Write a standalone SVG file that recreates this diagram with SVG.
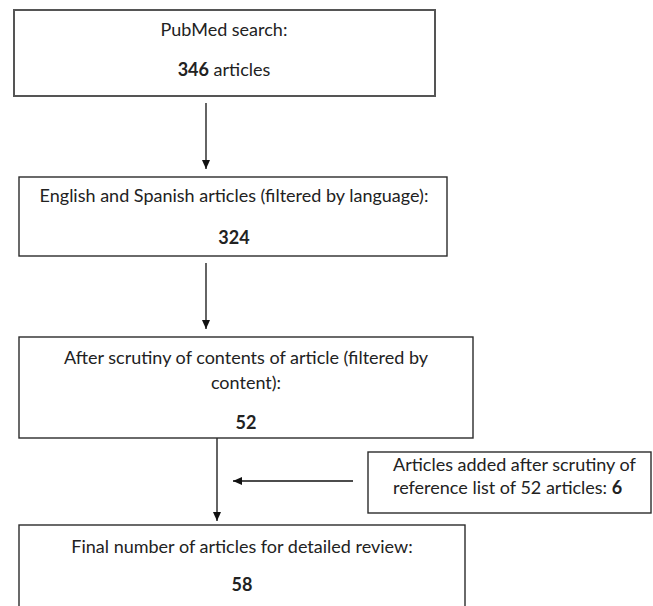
<svg xmlns="http://www.w3.org/2000/svg" width="653" height="606" viewBox="0 0 653 606">
<style>
.box{fill:#fff;stroke:#2b2b2b;stroke-width:1.4}
.t{font-family:Lato,"Liberation Sans",sans-serif;font-size:18px;fill:#222}
.c{text-anchor:middle}
.b{font-weight:bold}
.conn{stroke:#111;stroke-width:1.3;fill:none}
</style>
<defs>
<marker id="ah" markerWidth="10" markerHeight="10" refX="9" refY="5" orient="auto" markerUnits="userSpaceOnUse">
<path d="M0,1 L9,5 L0,9 Z" fill="#111"/>
</marker>
</defs>
<rect width="653" height="606" fill="#fff"/>
<g id="connectors">
<line class="conn" x1="206" y1="103" x2="206" y2="169" marker-end="url(#ah)"/>
<line class="conn" x1="206" y1="263" x2="206" y2="329" marker-end="url(#ah)"/>
<line class="conn" x1="217" y1="438" x2="217" y2="521" marker-end="url(#ah)"/>
<line class="conn" x1="353" y1="481" x2="233" y2="481" marker-end="url(#ah)"/>
</g>
<g id="n1">
<rect class="box" x="14" y="10" width="421" height="86" style="stroke:#555;stroke-width:2"/>
<text class="t c" x="224" y="36">PubMed search:</text>
<text class="t c" x="224" y="76"><tspan class="b">346</tspan> articles</text>
</g>
<g id="n2">
<rect class="box" x="19" y="177" width="428" height="79"/>
<text class="t c" x="234" y="202">English and Spanish articles (filtered by language):</text>
<text class="t c b" x="234" y="244">324</text>
</g>
<g id="n3">
<rect class="box" x="19" y="337" width="454" height="101"/>
<text class="t c" x="246" y="364">After scrutiny of contents of article (filtered by</text>
<text class="t c" x="246" y="389">content):</text>
<text class="t c b" x="246" y="429">52</text>
</g>
<g id="n4">
<rect class="box" x="19" y="525" width="446" height="90"/>
<text class="t c" x="242" y="553">Final number of articles for detailed review:</text>
<text class="t c b" x="242" y="591">58</text>
</g>
<g id="n5">
<rect class="box" x="368" y="452" width="283" height="61"/>
<text class="t" x="393" y="471">Articles added after scrutiny of</text>
<text class="t" x="393" y="494">reference list of 52 articles: <tspan class="b">6</tspan></text>
</g>
</svg>
